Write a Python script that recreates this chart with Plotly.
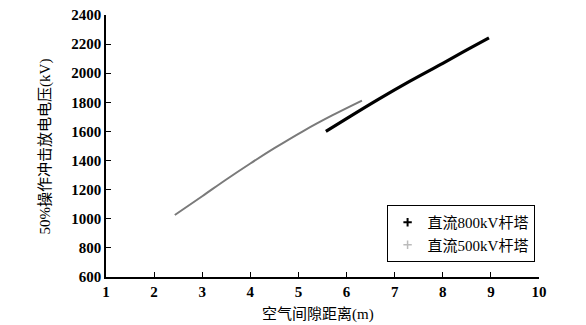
import plotly.graph_objects as go

# 直流800kV杆塔
x800 = [5.57, 6.0, 6.66, 7.3, 8.0, 8.5, 8.96]
y800 = [1600, 1688, 1820, 1942, 2068, 2160, 2243]

# 直流500kV杆塔
x500 = [2.43, 3.0, 3.5, 4.0, 4.5, 5.1, 5.7, 6.32]
y500 = [1026, 1155, 1270, 1380, 1485, 1603, 1710, 1812]

names = ["直流800kV杆塔", "直流500kV杆塔"]
xticks = list(range(1, 11))
yticks = list(range(600, 2401, 200))
xtitle = "空气间隙距离(m)"
ytitle = "50%操作冲击放电电压(kV)"

num_font = dict(family="Liberation Serif, Times New Roman, serif", size=15, color="black",
                weight="bold")
cjk_font = dict(family="Liberation Serif, Noto Sans CJK SC", size=15, color="black")

fig = go.Figure()
fig.add_trace(go.Scatter(x=x500, y=y500, mode="lines", line=dict(color="#7a7a7a", width=2, shape="spline"),
                         showlegend=False))
fig.add_trace(go.Scatter(x=x800, y=y800, mode="lines", line=dict(color="black", width=3.2, shape="spline"),
                         showlegend=False))
fig.add_trace(go.Scatter(x=[None], y=[None], mode="markers", name=names[0],
                         marker=dict(symbol="cross-thin", size=6, line=dict(color="black", width=2))))
fig.add_trace(go.Scatter(x=[None], y=[None], mode="markers", name=names[1],
                         marker=dict(symbol="cross-thin", size=6, line=dict(color="#bbbbbb", width=1.5))))

fig.update_layout(
    width=586, height=325,
    margin=dict(l=106, r=47, t=15, b=48, autoexpand=False),
    paper_bgcolor="white", plot_bgcolor="white",
    font=cjk_font,
    legend=dict(x=0.648, y=0.275, xanchor="left", yanchor="top",
                bordercolor="black", borderwidth=1, bgcolor="white",
                font=dict(family="Liberation Serif, Noto Sans CJK SC", size=15, color="black"),
                itemwidth=30, tracegroupgap=0),
    annotations=[
        dict(text=xtitle, xref="paper", yref="paper", x=0.49, y=-0.145, yanchor="middle",
             xanchor="center", showarrow=False, font=cjk_font),
        dict(text=ytitle, xref="paper", yref="paper", x=-0.14, y=0.5, textangle=-90,
             xanchor="center", yanchor="middle", showarrow=False, font=cjk_font),
    ],
)
fig.update_xaxes(range=[1, 10], tickvals=xticks, ticks="inside", ticklen=5, tickcolor="black",
                 showline=True, linecolor="black", linewidth=1.5, showgrid=False, zeroline=False,
                 tickfont=num_font, automargin=False)
fig.update_yaxes(range=[600, 2400], tickvals=yticks, ticks="inside", ticklen=5, tickcolor="black",
                 showline=True, linecolor="black", linewidth=1.5, showgrid=False, zeroline=False,
                 tickfont=num_font, automargin=False)

fig.write_html("out.html")
